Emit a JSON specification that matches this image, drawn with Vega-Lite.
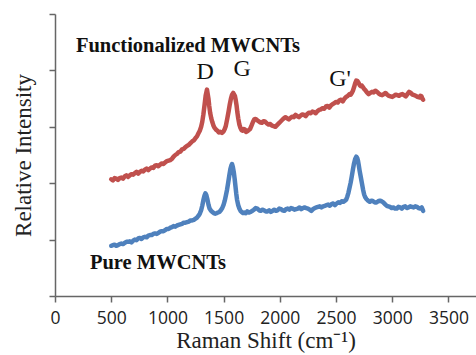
{
  "$schema": "https://vega.github.io/schema/vega-lite/v6.json",
  "width": 421,
  "height": 282,
  "autosize": {"type": "none"},
  "padding": {"left": 55, "top": 14, "right": 0, "bottom": 59},
  "background": "white",
  "config": {"view": {"stroke": null}},
  "datasets": {
    "spectra": [
      {"shift": 500, "intensity": 2.07, "sample": "Functionalized"},
      {"shift": 515, "intensity": 2.05, "sample": "Functionalized"},
      {"shift": 530, "intensity": 2.09, "sample": "Functionalized"},
      {"shift": 545, "intensity": 2.08, "sample": "Functionalized"},
      {"shift": 560, "intensity": 2.06, "sample": "Functionalized"},
      {"shift": 575, "intensity": 2.09, "sample": "Functionalized"},
      {"shift": 590, "intensity": 2.10, "sample": "Functionalized"},
      {"shift": 605, "intensity": 2.08, "sample": "Functionalized"},
      {"shift": 620, "intensity": 2.12, "sample": "Functionalized"},
      {"shift": 635, "intensity": 2.14, "sample": "Functionalized"},
      {"shift": 650, "intensity": 2.11, "sample": "Functionalized"},
      {"shift": 665, "intensity": 2.14, "sample": "Functionalized"},
      {"shift": 680, "intensity": 2.16, "sample": "Functionalized"},
      {"shift": 695, "intensity": 2.15, "sample": "Functionalized"},
      {"shift": 710, "intensity": 2.18, "sample": "Functionalized"},
      {"shift": 725, "intensity": 2.20, "sample": "Functionalized"},
      {"shift": 740, "intensity": 2.17, "sample": "Functionalized"},
      {"shift": 755, "intensity": 2.20, "sample": "Functionalized"},
      {"shift": 770, "intensity": 2.22, "sample": "Functionalized"},
      {"shift": 785, "intensity": 2.21, "sample": "Functionalized"},
      {"shift": 800, "intensity": 2.24, "sample": "Functionalized"},
      {"shift": 815, "intensity": 2.26, "sample": "Functionalized"},
      {"shift": 830, "intensity": 2.23, "sample": "Functionalized"},
      {"shift": 845, "intensity": 2.26, "sample": "Functionalized"},
      {"shift": 860, "intensity": 2.28, "sample": "Functionalized"},
      {"shift": 875, "intensity": 2.27, "sample": "Functionalized"},
      {"shift": 890, "intensity": 2.31, "sample": "Functionalized"},
      {"shift": 905, "intensity": 2.32, "sample": "Functionalized"},
      {"shift": 920, "intensity": 2.30, "sample": "Functionalized"},
      {"shift": 935, "intensity": 2.33, "sample": "Functionalized"},
      {"shift": 950, "intensity": 2.35, "sample": "Functionalized"},
      {"shift": 965, "intensity": 2.34, "sample": "Functionalized"},
      {"shift": 980, "intensity": 2.37, "sample": "Functionalized"},
      {"shift": 995, "intensity": 2.39, "sample": "Functionalized"},
      {"shift": 1010, "intensity": 2.40, "sample": "Functionalized"},
      {"shift": 1025, "intensity": 2.41, "sample": "Functionalized"},
      {"shift": 1040, "intensity": 2.43, "sample": "Functionalized"},
      {"shift": 1055, "intensity": 2.47, "sample": "Functionalized"},
      {"shift": 1070, "intensity": 2.50, "sample": "Functionalized"},
      {"shift": 1085, "intensity": 2.52, "sample": "Functionalized"},
      {"shift": 1100, "intensity": 2.55, "sample": "Functionalized"},
      {"shift": 1115, "intensity": 2.56, "sample": "Functionalized"},
      {"shift": 1130, "intensity": 2.60, "sample": "Functionalized"},
      {"shift": 1145, "intensity": 2.61, "sample": "Functionalized"},
      {"shift": 1160, "intensity": 2.64, "sample": "Functionalized"},
      {"shift": 1175, "intensity": 2.66, "sample": "Functionalized"},
      {"shift": 1190, "intensity": 2.68, "sample": "Functionalized"},
      {"shift": 1205, "intensity": 2.71, "sample": "Functionalized"},
      {"shift": 1220, "intensity": 2.74, "sample": "Functionalized"},
      {"shift": 1235, "intensity": 2.76, "sample": "Functionalized"},
      {"shift": 1250, "intensity": 2.80, "sample": "Functionalized"},
      {"shift": 1263, "intensity": 2.83, "sample": "Functionalized"},
      {"shift": 1275, "intensity": 2.88, "sample": "Functionalized"},
      {"shift": 1288, "intensity": 2.93, "sample": "Functionalized"},
      {"shift": 1300, "intensity": 3.00, "sample": "Functionalized"},
      {"shift": 1310, "intensity": 3.09, "sample": "Functionalized"},
      {"shift": 1320, "intensity": 3.22, "sample": "Functionalized"},
      {"shift": 1330, "intensity": 3.38, "sample": "Functionalized"},
      {"shift": 1340, "intensity": 3.55, "sample": "Functionalized"},
      {"shift": 1352, "intensity": 3.66, "sample": "Functionalized"},
      {"shift": 1365, "intensity": 3.50, "sample": "Functionalized"},
      {"shift": 1372, "intensity": 3.37, "sample": "Functionalized"},
      {"shift": 1380, "intensity": 3.25, "sample": "Functionalized"},
      {"shift": 1390, "intensity": 3.15, "sample": "Functionalized"},
      {"shift": 1400, "intensity": 3.08, "sample": "Functionalized"},
      {"shift": 1410, "intensity": 3.02, "sample": "Functionalized"},
      {"shift": 1420, "intensity": 2.98, "sample": "Functionalized"},
      {"shift": 1432, "intensity": 2.95, "sample": "Functionalized"},
      {"shift": 1445, "intensity": 2.93, "sample": "Functionalized"},
      {"shift": 1458, "intensity": 2.90, "sample": "Functionalized"},
      {"shift": 1470, "intensity": 2.91, "sample": "Functionalized"},
      {"shift": 1485, "intensity": 2.89, "sample": "Functionalized"},
      {"shift": 1500, "intensity": 2.92, "sample": "Functionalized"},
      {"shift": 1510, "intensity": 2.96, "sample": "Functionalized"},
      {"shift": 1520, "intensity": 3.02, "sample": "Functionalized"},
      {"shift": 1532, "intensity": 3.14, "sample": "Functionalized"},
      {"shift": 1545, "intensity": 3.28, "sample": "Functionalized"},
      {"shift": 1555, "intensity": 3.40, "sample": "Functionalized"},
      {"shift": 1565, "intensity": 3.50, "sample": "Functionalized"},
      {"shift": 1575, "intensity": 3.57, "sample": "Functionalized"},
      {"shift": 1585, "intensity": 3.60, "sample": "Functionalized"},
      {"shift": 1600, "intensity": 3.55, "sample": "Functionalized"},
      {"shift": 1608, "intensity": 3.47, "sample": "Functionalized"},
      {"shift": 1615, "intensity": 3.38, "sample": "Functionalized"},
      {"shift": 1622, "intensity": 3.26, "sample": "Functionalized"},
      {"shift": 1630, "intensity": 3.15, "sample": "Functionalized"},
      {"shift": 1640, "intensity": 3.04, "sample": "Functionalized"},
      {"shift": 1650, "intensity": 2.98, "sample": "Functionalized"},
      {"shift": 1660, "intensity": 2.94, "sample": "Functionalized"},
      {"shift": 1670, "intensity": 2.93, "sample": "Functionalized"},
      {"shift": 1680, "intensity": 2.96, "sample": "Functionalized"},
      {"shift": 1690, "intensity": 2.95, "sample": "Functionalized"},
      {"shift": 1700, "intensity": 2.91, "sample": "Functionalized"},
      {"shift": 1710, "intensity": 2.92, "sample": "Functionalized"},
      {"shift": 1722, "intensity": 2.94, "sample": "Functionalized"},
      {"shift": 1735, "intensity": 2.96, "sample": "Functionalized"},
      {"shift": 1748, "intensity": 3.02, "sample": "Functionalized"},
      {"shift": 1760, "intensity": 3.08, "sample": "Functionalized"},
      {"shift": 1772, "intensity": 3.13, "sample": "Functionalized"},
      {"shift": 1785, "intensity": 3.14, "sample": "Functionalized"},
      {"shift": 1797, "intensity": 3.12, "sample": "Functionalized"},
      {"shift": 1810, "intensity": 3.10, "sample": "Functionalized"},
      {"shift": 1825, "intensity": 3.08, "sample": "Functionalized"},
      {"shift": 1840, "intensity": 3.07, "sample": "Functionalized"},
      {"shift": 1855, "intensity": 3.10, "sample": "Functionalized"},
      {"shift": 1870, "intensity": 3.09, "sample": "Functionalized"},
      {"shift": 1885, "intensity": 3.06, "sample": "Functionalized"},
      {"shift": 1900, "intensity": 3.04, "sample": "Functionalized"},
      {"shift": 1915, "intensity": 3.05, "sample": "Functionalized"},
      {"shift": 1930, "intensity": 3.02, "sample": "Functionalized"},
      {"shift": 1945, "intensity": 3.01, "sample": "Functionalized"},
      {"shift": 1960, "intensity": 3.00, "sample": "Functionalized"},
      {"shift": 1975, "intensity": 3.03, "sample": "Functionalized"},
      {"shift": 1990, "intensity": 3.06, "sample": "Functionalized"},
      {"shift": 2005, "intensity": 3.09, "sample": "Functionalized"},
      {"shift": 2020, "intensity": 3.12, "sample": "Functionalized"},
      {"shift": 2035, "intensity": 3.15, "sample": "Functionalized"},
      {"shift": 2050, "intensity": 3.17, "sample": "Functionalized"},
      {"shift": 2065, "intensity": 3.15, "sample": "Functionalized"},
      {"shift": 2080, "intensity": 3.13, "sample": "Functionalized"},
      {"shift": 2095, "intensity": 3.16, "sample": "Functionalized"},
      {"shift": 2110, "intensity": 3.18, "sample": "Functionalized"},
      {"shift": 2125, "intensity": 3.17, "sample": "Functionalized"},
      {"shift": 2140, "intensity": 3.21, "sample": "Functionalized"},
      {"shift": 2155, "intensity": 3.19, "sample": "Functionalized"},
      {"shift": 2170, "intensity": 3.17, "sample": "Functionalized"},
      {"shift": 2185, "intensity": 3.20, "sample": "Functionalized"},
      {"shift": 2200, "intensity": 3.22, "sample": "Functionalized"},
      {"shift": 2215, "intensity": 3.21, "sample": "Functionalized"},
      {"shift": 2230, "intensity": 3.19, "sample": "Functionalized"},
      {"shift": 2245, "intensity": 3.23, "sample": "Functionalized"},
      {"shift": 2260, "intensity": 3.25, "sample": "Functionalized"},
      {"shift": 2275, "intensity": 3.24, "sample": "Functionalized"},
      {"shift": 2290, "intensity": 3.27, "sample": "Functionalized"},
      {"shift": 2305, "intensity": 3.26, "sample": "Functionalized"},
      {"shift": 2320, "intensity": 3.24, "sample": "Functionalized"},
      {"shift": 2335, "intensity": 3.28, "sample": "Functionalized"},
      {"shift": 2350, "intensity": 3.30, "sample": "Functionalized"},
      {"shift": 2365, "intensity": 3.31, "sample": "Functionalized"},
      {"shift": 2380, "intensity": 3.33, "sample": "Functionalized"},
      {"shift": 2395, "intensity": 3.32, "sample": "Functionalized"},
      {"shift": 2410, "intensity": 3.36, "sample": "Functionalized"},
      {"shift": 2425, "intensity": 3.37, "sample": "Functionalized"},
      {"shift": 2440, "intensity": 3.34, "sample": "Functionalized"},
      {"shift": 2455, "intensity": 3.38, "sample": "Functionalized"},
      {"shift": 2470, "intensity": 3.40, "sample": "Functionalized"},
      {"shift": 2485, "intensity": 3.42, "sample": "Functionalized"},
      {"shift": 2500, "intensity": 3.44, "sample": "Functionalized"},
      {"shift": 2515, "intensity": 3.43, "sample": "Functionalized"},
      {"shift": 2530, "intensity": 3.47, "sample": "Functionalized"},
      {"shift": 2545, "intensity": 3.48, "sample": "Functionalized"},
      {"shift": 2560, "intensity": 3.45, "sample": "Functionalized"},
      {"shift": 2575, "intensity": 3.50, "sample": "Functionalized"},
      {"shift": 2590, "intensity": 3.53, "sample": "Functionalized"},
      {"shift": 2605, "intensity": 3.55, "sample": "Functionalized"},
      {"shift": 2620, "intensity": 3.58, "sample": "Functionalized"},
      {"shift": 2630, "intensity": 3.57, "sample": "Functionalized"},
      {"shift": 2640, "intensity": 3.60, "sample": "Functionalized"},
      {"shift": 2650, "intensity": 3.64, "sample": "Functionalized"},
      {"shift": 2660, "intensity": 3.70, "sample": "Functionalized"},
      {"shift": 2670, "intensity": 3.77, "sample": "Functionalized"},
      {"shift": 2680, "intensity": 3.82, "sample": "Functionalized"},
      {"shift": 2690, "intensity": 3.81, "sample": "Functionalized"},
      {"shift": 2700, "intensity": 3.78, "sample": "Functionalized"},
      {"shift": 2710, "intensity": 3.74, "sample": "Functionalized"},
      {"shift": 2720, "intensity": 3.72, "sample": "Functionalized"},
      {"shift": 2730, "intensity": 3.73, "sample": "Functionalized"},
      {"shift": 2740, "intensity": 3.70, "sample": "Functionalized"},
      {"shift": 2750, "intensity": 3.67, "sample": "Functionalized"},
      {"shift": 2760, "intensity": 3.65, "sample": "Functionalized"},
      {"shift": 2775, "intensity": 3.61, "sample": "Functionalized"},
      {"shift": 2790, "intensity": 3.58, "sample": "Functionalized"},
      {"shift": 2805, "intensity": 3.60, "sample": "Functionalized"},
      {"shift": 2820, "intensity": 3.62, "sample": "Functionalized"},
      {"shift": 2835, "intensity": 3.61, "sample": "Functionalized"},
      {"shift": 2850, "intensity": 3.64, "sample": "Functionalized"},
      {"shift": 2865, "intensity": 3.62, "sample": "Functionalized"},
      {"shift": 2880, "intensity": 3.59, "sample": "Functionalized"},
      {"shift": 2895, "intensity": 3.57, "sample": "Functionalized"},
      {"shift": 2910, "intensity": 3.56, "sample": "Functionalized"},
      {"shift": 2925, "intensity": 3.58, "sample": "Functionalized"},
      {"shift": 2940, "intensity": 3.60, "sample": "Functionalized"},
      {"shift": 2955, "intensity": 3.57, "sample": "Functionalized"},
      {"shift": 2970, "intensity": 3.55, "sample": "Functionalized"},
      {"shift": 2985, "intensity": 3.54, "sample": "Functionalized"},
      {"shift": 3000, "intensity": 3.53, "sample": "Functionalized"},
      {"shift": 3015, "intensity": 3.55, "sample": "Functionalized"},
      {"shift": 3030, "intensity": 3.57, "sample": "Functionalized"},
      {"shift": 3045, "intensity": 3.56, "sample": "Functionalized"},
      {"shift": 3060, "intensity": 3.55, "sample": "Functionalized"},
      {"shift": 3075, "intensity": 3.57, "sample": "Functionalized"},
      {"shift": 3090, "intensity": 3.58, "sample": "Functionalized"},
      {"shift": 3105, "intensity": 3.56, "sample": "Functionalized"},
      {"shift": 3120, "intensity": 3.54, "sample": "Functionalized"},
      {"shift": 3135, "intensity": 3.58, "sample": "Functionalized"},
      {"shift": 3150, "intensity": 3.62, "sample": "Functionalized"},
      {"shift": 3165, "intensity": 3.60, "sample": "Functionalized"},
      {"shift": 3180, "intensity": 3.57, "sample": "Functionalized"},
      {"shift": 3195, "intensity": 3.56, "sample": "Functionalized"},
      {"shift": 3210, "intensity": 3.55, "sample": "Functionalized"},
      {"shift": 3225, "intensity": 3.53, "sample": "Functionalized"},
      {"shift": 3240, "intensity": 3.52, "sample": "Functionalized"},
      {"shift": 3250, "intensity": 3.55, "sample": "Functionalized"},
      {"shift": 3260, "intensity": 3.54, "sample": "Functionalized"},
      {"shift": 3268, "intensity": 3.50, "sample": "Functionalized"},
      {"shift": 3275, "intensity": 3.48, "sample": "Functionalized"},
      {"shift": 500, "intensity": 0.89, "sample": "Pure"},
      {"shift": 515, "intensity": 0.90, "sample": "Pure"},
      {"shift": 530, "intensity": 0.91, "sample": "Pure"},
      {"shift": 545, "intensity": 0.89, "sample": "Pure"},
      {"shift": 560, "intensity": 0.90, "sample": "Pure"},
      {"shift": 575, "intensity": 0.92, "sample": "Pure"},
      {"shift": 590, "intensity": 0.93, "sample": "Pure"},
      {"shift": 605, "intensity": 0.92, "sample": "Pure"},
      {"shift": 620, "intensity": 0.94, "sample": "Pure"},
      {"shift": 635, "intensity": 0.96, "sample": "Pure"},
      {"shift": 650, "intensity": 0.96, "sample": "Pure"},
      {"shift": 665, "intensity": 0.97, "sample": "Pure"},
      {"shift": 680, "intensity": 0.95, "sample": "Pure"},
      {"shift": 695, "intensity": 0.98, "sample": "Pure"},
      {"shift": 710, "intensity": 1.00, "sample": "Pure"},
      {"shift": 725, "intensity": 0.99, "sample": "Pure"},
      {"shift": 740, "intensity": 1.02, "sample": "Pure"},
      {"shift": 755, "intensity": 1.03, "sample": "Pure"},
      {"shift": 770, "intensity": 1.01, "sample": "Pure"},
      {"shift": 785, "intensity": 1.04, "sample": "Pure"},
      {"shift": 800, "intensity": 1.05, "sample": "Pure"},
      {"shift": 815, "intensity": 1.04, "sample": "Pure"},
      {"shift": 830, "intensity": 1.07, "sample": "Pure"},
      {"shift": 845, "intensity": 1.08, "sample": "Pure"},
      {"shift": 860, "intensity": 1.08, "sample": "Pure"},
      {"shift": 875, "intensity": 1.10, "sample": "Pure"},
      {"shift": 890, "intensity": 1.11, "sample": "Pure"},
      {"shift": 905, "intensity": 1.10, "sample": "Pure"},
      {"shift": 920, "intensity": 1.12, "sample": "Pure"},
      {"shift": 935, "intensity": 1.14, "sample": "Pure"},
      {"shift": 950, "intensity": 1.15, "sample": "Pure"},
      {"shift": 965, "intensity": 1.15, "sample": "Pure"},
      {"shift": 980, "intensity": 1.17, "sample": "Pure"},
      {"shift": 995, "intensity": 1.19, "sample": "Pure"},
      {"shift": 1010, "intensity": 1.19, "sample": "Pure"},
      {"shift": 1025, "intensity": 1.21, "sample": "Pure"},
      {"shift": 1040, "intensity": 1.22, "sample": "Pure"},
      {"shift": 1055, "intensity": 1.24, "sample": "Pure"},
      {"shift": 1070, "intensity": 1.23, "sample": "Pure"},
      {"shift": 1085, "intensity": 1.25, "sample": "Pure"},
      {"shift": 1100, "intensity": 1.26, "sample": "Pure"},
      {"shift": 1115, "intensity": 1.27, "sample": "Pure"},
      {"shift": 1130, "intensity": 1.28, "sample": "Pure"},
      {"shift": 1145, "intensity": 1.30, "sample": "Pure"},
      {"shift": 1160, "intensity": 1.30, "sample": "Pure"},
      {"shift": 1175, "intensity": 1.31, "sample": "Pure"},
      {"shift": 1190, "intensity": 1.32, "sample": "Pure"},
      {"shift": 1205, "intensity": 1.34, "sample": "Pure"},
      {"shift": 1220, "intensity": 1.34, "sample": "Pure"},
      {"shift": 1235, "intensity": 1.35, "sample": "Pure"},
      {"shift": 1250, "intensity": 1.37, "sample": "Pure"},
      {"shift": 1263, "intensity": 1.39, "sample": "Pure"},
      {"shift": 1275, "intensity": 1.42, "sample": "Pure"},
      {"shift": 1288, "intensity": 1.46, "sample": "Pure"},
      {"shift": 1300, "intensity": 1.52, "sample": "Pure"},
      {"shift": 1310, "intensity": 1.60, "sample": "Pure"},
      {"shift": 1320, "intensity": 1.70, "sample": "Pure"},
      {"shift": 1330, "intensity": 1.78, "sample": "Pure"},
      {"shift": 1338, "intensity": 1.82, "sample": "Pure"},
      {"shift": 1346, "intensity": 1.79, "sample": "Pure"},
      {"shift": 1355, "intensity": 1.72, "sample": "Pure"},
      {"shift": 1365, "intensity": 1.62, "sample": "Pure"},
      {"shift": 1375, "intensity": 1.55, "sample": "Pure"},
      {"shift": 1388, "intensity": 1.51, "sample": "Pure"},
      {"shift": 1400, "intensity": 1.49, "sample": "Pure"},
      {"shift": 1412, "intensity": 1.47, "sample": "Pure"},
      {"shift": 1425, "intensity": 1.46, "sample": "Pure"},
      {"shift": 1438, "intensity": 1.47, "sample": "Pure"},
      {"shift": 1450, "intensity": 1.48, "sample": "Pure"},
      {"shift": 1462, "intensity": 1.49, "sample": "Pure"},
      {"shift": 1475, "intensity": 1.52, "sample": "Pure"},
      {"shift": 1488, "intensity": 1.56, "sample": "Pure"},
      {"shift": 1500, "intensity": 1.62, "sample": "Pure"},
      {"shift": 1510, "intensity": 1.69, "sample": "Pure"},
      {"shift": 1520, "intensity": 1.78, "sample": "Pure"},
      {"shift": 1530, "intensity": 1.88, "sample": "Pure"},
      {"shift": 1540, "intensity": 2.00, "sample": "Pure"},
      {"shift": 1550, "intensity": 2.13, "sample": "Pure"},
      {"shift": 1560, "intensity": 2.25, "sample": "Pure"},
      {"shift": 1568, "intensity": 2.31, "sample": "Pure"},
      {"shift": 1575, "intensity": 2.34, "sample": "Pure"},
      {"shift": 1582, "intensity": 2.29, "sample": "Pure"},
      {"shift": 1590, "intensity": 2.20, "sample": "Pure"},
      {"shift": 1598, "intensity": 2.08, "sample": "Pure"},
      {"shift": 1605, "intensity": 1.95, "sample": "Pure"},
      {"shift": 1612, "intensity": 1.82, "sample": "Pure"},
      {"shift": 1620, "intensity": 1.70, "sample": "Pure"},
      {"shift": 1630, "intensity": 1.61, "sample": "Pure"},
      {"shift": 1640, "intensity": 1.55, "sample": "Pure"},
      {"shift": 1650, "intensity": 1.51, "sample": "Pure"},
      {"shift": 1660, "intensity": 1.49, "sample": "Pure"},
      {"shift": 1672, "intensity": 1.47, "sample": "Pure"},
      {"shift": 1685, "intensity": 1.48, "sample": "Pure"},
      {"shift": 1698, "intensity": 1.47, "sample": "Pure"},
      {"shift": 1710, "intensity": 1.50, "sample": "Pure"},
      {"shift": 1725, "intensity": 1.48, "sample": "Pure"},
      {"shift": 1740, "intensity": 1.49, "sample": "Pure"},
      {"shift": 1755, "intensity": 1.51, "sample": "Pure"},
      {"shift": 1770, "intensity": 1.53, "sample": "Pure"},
      {"shift": 1785, "intensity": 1.56, "sample": "Pure"},
      {"shift": 1800, "intensity": 1.55, "sample": "Pure"},
      {"shift": 1815, "intensity": 1.52, "sample": "Pure"},
      {"shift": 1830, "intensity": 1.51, "sample": "Pure"},
      {"shift": 1845, "intensity": 1.53, "sample": "Pure"},
      {"shift": 1860, "intensity": 1.52, "sample": "Pure"},
      {"shift": 1875, "intensity": 1.50, "sample": "Pure"},
      {"shift": 1890, "intensity": 1.50, "sample": "Pure"},
      {"shift": 1905, "intensity": 1.52, "sample": "Pure"},
      {"shift": 1920, "intensity": 1.49, "sample": "Pure"},
      {"shift": 1935, "intensity": 1.51, "sample": "Pure"},
      {"shift": 1950, "intensity": 1.53, "sample": "Pure"},
      {"shift": 1965, "intensity": 1.51, "sample": "Pure"},
      {"shift": 1980, "intensity": 1.52, "sample": "Pure"},
      {"shift": 1995, "intensity": 1.55, "sample": "Pure"},
      {"shift": 2010, "intensity": 1.54, "sample": "Pure"},
      {"shift": 2025, "intensity": 1.52, "sample": "Pure"},
      {"shift": 2040, "intensity": 1.51, "sample": "Pure"},
      {"shift": 2055, "intensity": 1.54, "sample": "Pure"},
      {"shift": 2070, "intensity": 1.55, "sample": "Pure"},
      {"shift": 2085, "intensity": 1.53, "sample": "Pure"},
      {"shift": 2100, "intensity": 1.56, "sample": "Pure"},
      {"shift": 2115, "intensity": 1.55, "sample": "Pure"},
      {"shift": 2130, "intensity": 1.53, "sample": "Pure"},
      {"shift": 2145, "intensity": 1.54, "sample": "Pure"},
      {"shift": 2160, "intensity": 1.55, "sample": "Pure"},
      {"shift": 2175, "intensity": 1.57, "sample": "Pure"},
      {"shift": 2190, "intensity": 1.54, "sample": "Pure"},
      {"shift": 2205, "intensity": 1.56, "sample": "Pure"},
      {"shift": 2220, "intensity": 1.57, "sample": "Pure"},
      {"shift": 2235, "intensity": 1.56, "sample": "Pure"},
      {"shift": 2250, "intensity": 1.55, "sample": "Pure"},
      {"shift": 2265, "intensity": 1.53, "sample": "Pure"},
      {"shift": 2280, "intensity": 1.51, "sample": "Pure"},
      {"shift": 2295, "intensity": 1.54, "sample": "Pure"},
      {"shift": 2310, "intensity": 1.56, "sample": "Pure"},
      {"shift": 2325, "intensity": 1.57, "sample": "Pure"},
      {"shift": 2340, "intensity": 1.58, "sample": "Pure"},
      {"shift": 2355, "intensity": 1.59, "sample": "Pure"},
      {"shift": 2370, "intensity": 1.57, "sample": "Pure"},
      {"shift": 2385, "intensity": 1.59, "sample": "Pure"},
      {"shift": 2400, "intensity": 1.60, "sample": "Pure"},
      {"shift": 2415, "intensity": 1.61, "sample": "Pure"},
      {"shift": 2430, "intensity": 1.62, "sample": "Pure"},
      {"shift": 2445, "intensity": 1.60, "sample": "Pure"},
      {"shift": 2460, "intensity": 1.63, "sample": "Pure"},
      {"shift": 2475, "intensity": 1.64, "sample": "Pure"},
      {"shift": 2490, "intensity": 1.61, "sample": "Pure"},
      {"shift": 2505, "intensity": 1.64, "sample": "Pure"},
      {"shift": 2520, "intensity": 1.66, "sample": "Pure"},
      {"shift": 2535, "intensity": 1.65, "sample": "Pure"},
      {"shift": 2550, "intensity": 1.68, "sample": "Pure"},
      {"shift": 2565, "intensity": 1.67, "sample": "Pure"},
      {"shift": 2580, "intensity": 1.69, "sample": "Pure"},
      {"shift": 2590, "intensity": 1.71, "sample": "Pure"},
      {"shift": 2600, "intensity": 1.76, "sample": "Pure"},
      {"shift": 2610, "intensity": 1.83, "sample": "Pure"},
      {"shift": 2620, "intensity": 1.92, "sample": "Pure"},
      {"shift": 2630, "intensity": 2.01, "sample": "Pure"},
      {"shift": 2640, "intensity": 2.12, "sample": "Pure"},
      {"shift": 2650, "intensity": 2.24, "sample": "Pure"},
      {"shift": 2660, "intensity": 2.35, "sample": "Pure"},
      {"shift": 2670, "intensity": 2.43, "sample": "Pure"},
      {"shift": 2680, "intensity": 2.47, "sample": "Pure"},
      {"shift": 2688, "intensity": 2.45, "sample": "Pure"},
      {"shift": 2695, "intensity": 2.40, "sample": "Pure"},
      {"shift": 2702, "intensity": 2.32, "sample": "Pure"},
      {"shift": 2710, "intensity": 2.22, "sample": "Pure"},
      {"shift": 2720, "intensity": 2.11, "sample": "Pure"},
      {"shift": 2730, "intensity": 2.00, "sample": "Pure"},
      {"shift": 2740, "intensity": 1.89, "sample": "Pure"},
      {"shift": 2750, "intensity": 1.80, "sample": "Pure"},
      {"shift": 2760, "intensity": 1.75, "sample": "Pure"},
      {"shift": 2770, "intensity": 1.72, "sample": "Pure"},
      {"shift": 2785, "intensity": 1.69, "sample": "Pure"},
      {"shift": 2800, "intensity": 1.67, "sample": "Pure"},
      {"shift": 2815, "intensity": 1.69, "sample": "Pure"},
      {"shift": 2830, "intensity": 1.68, "sample": "Pure"},
      {"shift": 2845, "intensity": 1.66, "sample": "Pure"},
      {"shift": 2860, "intensity": 1.66, "sample": "Pure"},
      {"shift": 2875, "intensity": 1.68, "sample": "Pure"},
      {"shift": 2890, "intensity": 1.69, "sample": "Pure"},
      {"shift": 2905, "intensity": 1.68, "sample": "Pure"},
      {"shift": 2920, "intensity": 1.66, "sample": "Pure"},
      {"shift": 2935, "intensity": 1.63, "sample": "Pure"},
      {"shift": 2950, "intensity": 1.60, "sample": "Pure"},
      {"shift": 2965, "intensity": 1.59, "sample": "Pure"},
      {"shift": 2980, "intensity": 1.58, "sample": "Pure"},
      {"shift": 2995, "intensity": 1.56, "sample": "Pure"},
      {"shift": 3010, "intensity": 1.57, "sample": "Pure"},
      {"shift": 3025, "intensity": 1.55, "sample": "Pure"},
      {"shift": 3040, "intensity": 1.55, "sample": "Pure"},
      {"shift": 3055, "intensity": 1.58, "sample": "Pure"},
      {"shift": 3070, "intensity": 1.57, "sample": "Pure"},
      {"shift": 3085, "intensity": 1.55, "sample": "Pure"},
      {"shift": 3100, "intensity": 1.58, "sample": "Pure"},
      {"shift": 3115, "intensity": 1.59, "sample": "Pure"},
      {"shift": 3130, "intensity": 1.56, "sample": "Pure"},
      {"shift": 3145, "intensity": 1.57, "sample": "Pure"},
      {"shift": 3160, "intensity": 1.59, "sample": "Pure"},
      {"shift": 3175, "intensity": 1.58, "sample": "Pure"},
      {"shift": 3190, "intensity": 1.57, "sample": "Pure"},
      {"shift": 3205, "intensity": 1.59, "sample": "Pure"},
      {"shift": 3220, "intensity": 1.58, "sample": "Pure"},
      {"shift": 3235, "intensity": 1.56, "sample": "Pure"},
      {"shift": 3250, "intensity": 1.55, "sample": "Pure"},
      {"shift": 3262, "intensity": 1.57, "sample": "Pure"},
      {"shift": 3275, "intensity": 1.51, "sample": "Pure"}
    ],
    "titles": [
      {"shift": 1183, "intensity": 4.43, "label": "Functionalized MWCNTs"},
      {"shift": 916, "intensity": 0.585, "label": "Pure MWCNTs"}
    ],
    "peaks": [
      {"shift": 1335, "intensity": 3.97, "label": "D"},
      {"shift": 1665, "intensity": 4.02, "label": "G"},
      {"shift": 2535, "intensity": 3.84, "label": "G'"}
    ]
  },
  "layer": [
    {
      "data": {"name": "spectra"},
      "mark": {"type": "line", "strokeWidth": 4.5, "strokeJoin": "round", "strokeCap": "round"},
      "encoding": {
        "x": {
          "field": "shift", "type": "quantitative",
          "scale": {"domain": [0, 3745], "nice": false, "zero": false},
          "axis": {
            "values": [0, 500, 1000, 1500, 2000, 2500, 3000, 3500],
            "format": "d",
            "title": "Raman Shift (cm⁻¹)",
            "titleFont": "Liberation Serif", "titleFontSize": 23, "titleFontWeight": "normal", "titleColor": "#222",
            "titlePadding": 3,
            "labelFont": "Open Sans", "labelFontSize": 17.5, "labelColor": "#222", "labelPadding": 7,
            "domainColor": "#666", "domainWidth": 1.5, "tickColor": "#666", "tickWidth": 1.5, "tickSize": 6,
            "grid": false, "labelFlush": false
          }
        },
        "y": {
          "field": "intensity", "type": "quantitative",
          "scale": {"domain": [0, 5], "nice": false},
          "axis": {
            "values": [0, 1, 2, 3, 4, 5],
            "labels": false,
            "title": "Relative Intensity",
            "titleFont": "Liberation Serif", "titleFontSize": 23, "titleFontWeight": "normal", "titleColor": "#222",
            "titlePadding": 13,
            "domainColor": "#666", "domainWidth": 1.5, "tickColor": "#666", "tickWidth": 1.5, "tickSize": 6,
            "grid": false
          }
        },
        "color": {
          "field": "sample", "type": "nominal",
          "scale": {"domain": ["Functionalized", "Pure"], "range": ["#C0504D", "#4F81BD"]},
          "legend": null
        },
        "detail": {"field": "sample"}
      }
    },
    {
      "data": {"name": "titles"},
      "mark": {"type": "text", "font": "Liberation Serif", "fontWeight": "bold", "fontSize": 20.5, "color": "#111", "align": "center", "baseline": "middle"},
      "encoding": {
        "x": {"field": "shift", "type": "quantitative"},
        "y": {"field": "intensity", "type": "quantitative"},
        "text": {"field": "label"}
      }
    },
    {
      "data": {"name": "peaks"},
      "mark": {"type": "text", "font": "Liberation Serif", "fontSize": 24, "color": "#111", "align": "center", "baseline": "middle"},
      "encoding": {
        "x": {"field": "shift", "type": "quantitative"},
        "y": {"field": "intensity", "type": "quantitative"},
        "text": {"field": "label"}
      }
    }
  ]
}
